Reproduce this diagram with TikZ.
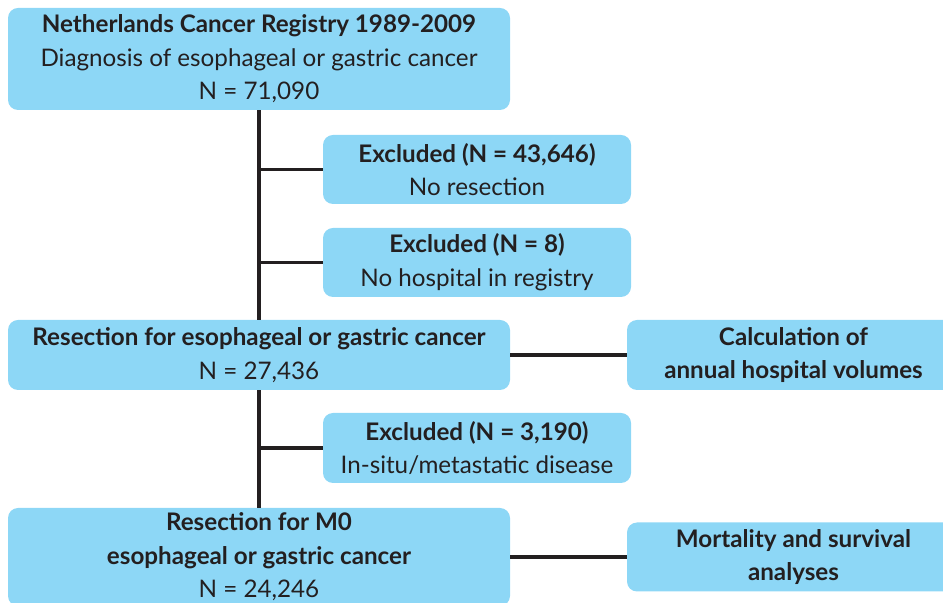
\documentclass[tikz,border=0pt]{standalone}
\usepackage{fontspec}
\setmainfont{Lato}
\usepackage{xcolor}
\usepackage{tikz}
\usetikzlibrary{positioning}
\usetikzlibrary{calc}

\definecolor{boxblue}{RGB}{141,215,246}
\definecolor{inkdark}{RGB}{35,31,32}

\tikzset{
  flowbox/.style={rectangle, rounded corners=5pt, fill=boxblue, text=inkdark,
    align=center, inner sep=0pt, font=\fontsize{12.1}{16.8}\selectfont},
  link/.style={draw=inkdark, line width=1.6pt}
}

\begin{document}
\begin{tikzpicture}[x=0.5pt, y=-0.5pt]
  \useasboundingbox (0,0) rectangle (943,603);
  \clip (0,0) rectangle (943,603);
  % main column
  \node[flowbox, minimum width=251pt, minimum height=51pt] (registry) at (259,59)
    {\textbf{Netherlands Cancer Registry 1989-2009}\\Diagnosis of esophageal or gastric cancer\\N = 71,090};
  \node[flowbox, minimum width=251pt, minimum height=35pt] (resection) at (259,355)
    {\textbf{Resection for esophageal or gastric cancer}\\N = 27,436};
  \node[flowbox, minimum width=251pt, minimum height=49pt] (resectmzero) at (259,557)
    {\textbf{Resection for M0}\\\textbf{esophageal or gastric cancer}\\N = 24,246};
  % exclusions
  \node[flowbox, minimum width=154pt, minimum height=34.5pt] (exclnores) at (477,169.5)
    {\textbf{Excluded (N = 43,646)}\\No resection};
  \node[flowbox, minimum width=154pt, minimum height=34.5pt] (exclnohosp) at (477,262.5)
    {\textbf{Excluded (N = 8)}\\No hospital in registry};
  \node[flowbox, minimum width=154pt, minimum height=35pt] (exclmeta) at (477,448)
    {\textbf{Excluded (N = 3,190)}\\In-situ/metastatic disease};
  % right column
  \node[flowbox, minimum width=166.5pt, minimum height=35pt] (volumes) at (793.5,355)
    {\textbf{Calculation of}\\\textbf{annual hospital volumes}};
  \node[flowbox, minimum width=166.5pt, minimum height=34.5pt] (mortality) at (793.5,557)
    {\textbf{Mortality and survival}\\\textbf{analyses}};
  % connectors
  \draw[link] (registry.south) -- (resection.north);
  \draw[link] (resection.south) -- (resectmzero.north);
  \draw[link] (exclnores.west) -- (exclnores.west -| registry.south);
  \draw[link] (exclnohosp.west) -- (exclnohosp.west -| registry.south);
  \draw[link] (exclmeta.west) -- (exclmeta.west -| resection.south);
  \draw[link] (resection.east) -- (volumes.west);
  \draw[link] (resectmzero.east) -- (mortality.west);
\end{tikzpicture}
\end{document}
